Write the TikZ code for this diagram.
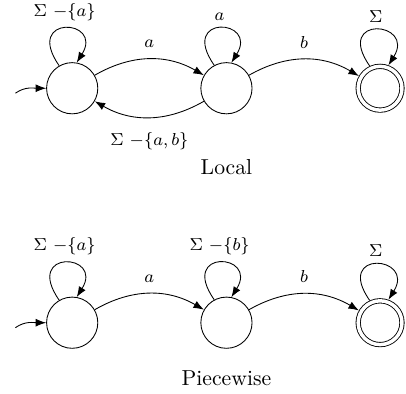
\documentclass[tikz,border=0pt]{standalone}
\usetikzlibrary{arrows.meta,positioning}
\tikzset{
  state/.style={circle, draw, minimum size=0.83cm, inner sep=0pt},
  acceptstate/.style={state, minimum size=0.71cm, double, double distance=1.6pt,
    outer sep=1.2pt},
  arrow/.style={-{Latex}},
  selfloop/.style={to path={.. controls +(125:1.02cm) and +(58:0.84cm)
    .. (\tikztotarget) \tikztonodes}},
  edgelabel/.style={font=\footnotesize, inner sep=5pt},
  looplabel/.style={font=\footnotesize}
}
\begin{document}
\begin{tikzpicture}[node distance=2.5cm, on grid]
  \useasboundingbox (0,0) rectangle (6.58,6.37);

  % Local
  \node[state] (l0) at (1.17,4.94) {};
  \node[state, right=of l0] (l1) {};
  \node[acceptstate, right=2.49cm of l1] (l2) {};
  \node[below=1.28cm of l1] (local) {Local};
  \coordinate[below left=0.08cm and 0.92cm of l0] (lstart);

  \draw[arrow] (lstart) to[out=35, in=180] (l0);
  \draw[arrow] (l0.120) to[selfloop] node[looplabel, above] {$\Sigma$ $-\{a\}$} (l0.80);
  \draw[arrow] (l1.118) to[selfloop] node[looplabel, above] {$a$} (l1.79);
  \draw[arrow] (l2.115) to[selfloop] node[looplabel, above] {$\Sigma$} (l2.70);
  \draw[arrow] (l0) to[bend left=30] node[edgelabel, above] {$a$} (l1);
  \draw[arrow] (l1) to[bend left=30]
    node[edgelabel, below, yshift=-2pt] {$\Sigma$ $-\{a,b\}$} (l0);
  \draw[arrow] (l1) to[bend left=30] node[edgelabel, above] {$b$} (l2);

  % Piecewise
  \node[state, below=3.8cm of l0] (p0) {};
  \node[state, right=of p0] (p1) {};
  \node[acceptstate, right=2.49cm of p1] (p2) {};
  \node[below=0.9cm of p1] (piecewise) {Piecewise};
  \coordinate[below left=0.08cm and 0.92cm of p0] (pstart);

  \draw[arrow] (pstart) to[out=35, in=180] (p0);
  \draw[arrow] (p0.120) to[selfloop] node[looplabel, above] {$\Sigma$ $-\{a\}$} (p0.80);
  \draw[arrow] (p1.118) to[selfloop] node[looplabel, above] {$\Sigma$ $-\{b\}$} (p1.79);
  \draw[arrow] (p2.115) to[selfloop] node[looplabel, above] {$\Sigma$} (p2.70);
  \draw[arrow] (p0) to[bend left=30] node[edgelabel, above] {$a$} (p1);
  \draw[arrow] (p1) to[bend left=30] node[edgelabel, above] {$b$} (p2);
\end{tikzpicture}
\end{document}
